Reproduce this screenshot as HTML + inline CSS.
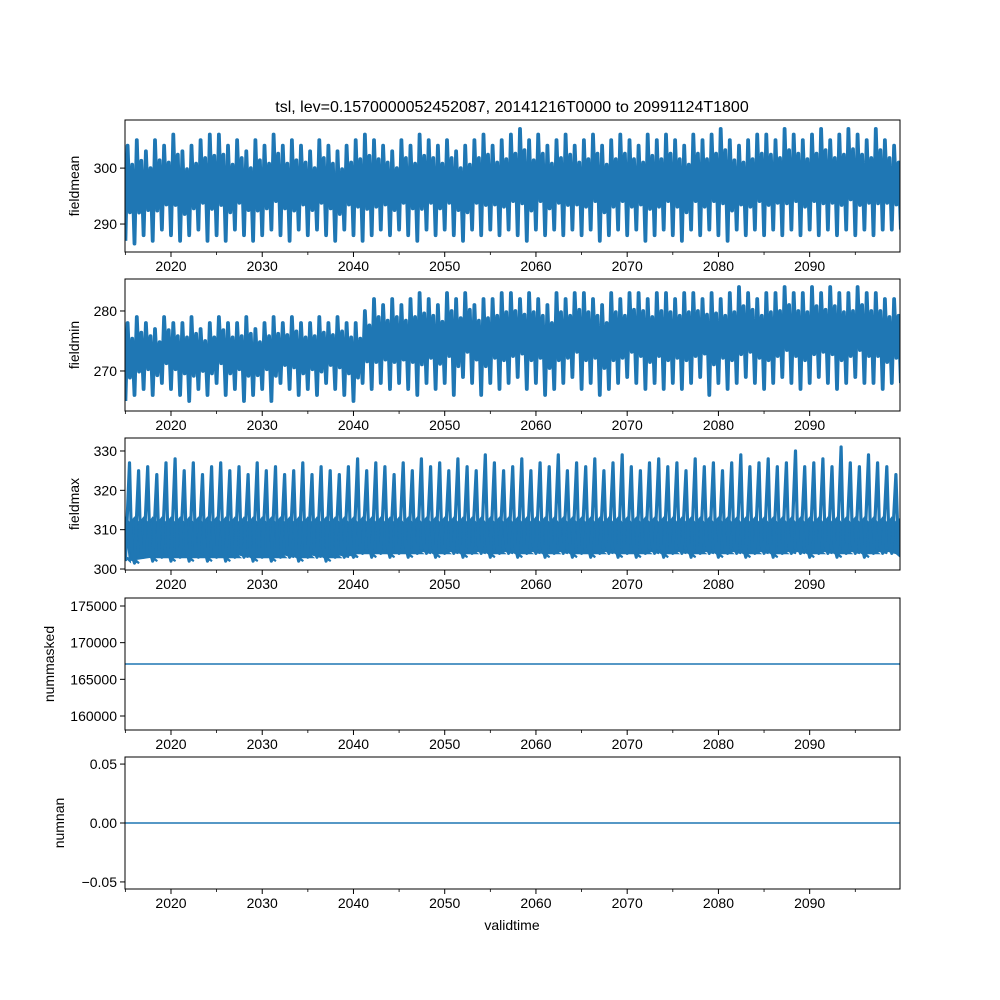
<!DOCTYPE html>
<html><head><meta charset="utf-8"><style>
html,body{margin:0;padding:0;background:#fff;}
svg{display:block;font-family:"Liberation Sans","DejaVu Sans",sans-serif;}
</style></head><body>
<svg id="chart" width="1000" height="1000" viewBox="0 0 1000 1000" xmlns="http://www.w3.org/2000/svg">
<rect width="1000" height="1000" fill="#fff"/>
<text x="512" y="112" text-anchor="middle" font-size="16" fill="#000">tsl, lev=0.1570000052452087, 20141216T0000 to 20991124T1800</text>
<text x="512" y="930" text-anchor="middle" font-size="14" fill="#000">validtime</text>
</svg>
<script>
const years = [];
for (let y = 2015; y <= 2099; y++) years.push(y);
const xTicks = [2020,2030,2040,2050,2060,2070,2080,2090];
const xMinorTicks = [2015,2025,2035,2045,2055,2065,2075,2085,2095];
const meanHi = [304,305,303,305,304,306,303,304,305,306, 306,304,305,303,305,304,306,304,305,304, 303,305,304,303,304,305,306,305,304,303, 305,304,306,305,304,305,303,304,305,306, 304,305,306,307,305,306,304,305,306,304, 305,306,304,305,306,305,304,306,305,306, 305,304,306,305,306,307,305,304,305,306, 306,305,307,306,305,306,307,305,306,307, 306,305,307,305,304];
const meanLo = [287,286.5,288,287,289,288,287,288,289,287, 288,287,289,288,287,288,289,288,287,289, 288,289,288,287,289,288,287,288,289,288, 289,288,287,289,288,289,288,287,289,288, 289,288,289,288,287,289,288,289,288,289, 288,289,287,288,289,288,289,287,288,289, 288,287,289,288,289,288,287,289,288,289, 288,289,288,289,288,289,288,289,288,289, 288,289,288,289,289];
const minHi = [278,279,278,277,279,278,278,279,277,278, 279,278,278,279,277,278,279,278,279,278, 278,279,278,279,278,278,280,282,281,282, 281,282,283,282,281,283,282,283,281,282, 282,283,283,282,283,282,281,283,282,283, 283,282,281,283,282,283,283,282,283,283, 282,283,283,282,283,282,283,284,283,282, 283,283,284,283,283,284,283,284,283,283, 284,283,283,282,282];
const minLo = [265,266,267,266,268,267,266,265,267,266, 268,266,267,265,266,267,265,268,267,266, 267,266,268,267,266,265,268,267,268,267, 268,267,266,268,267,268,266,269,268,266, 268,267,268,269,267,268,266,267,268,269, 267,268,266,267,268,269,268,267,268,267, 268,267,268,269,266,268,267,268,269,268, 267,268,269,268,267,268,269,268,267,268, 269,268,268,267,268];
const maxHi = [327,325,326,324,327,328,325,327,324,326, 327,325,326,324,327,325,326,324,325,327, 324,326,325,324,326,328,325,327,326,324, 327,325,328,326,327,325,328,326,325,329, 327,325,326,328,325,327,326,329,325,327, 326,328,325,327,329,326,325,327,328,326, 327,325,328,326,327,325,327,329,326,327, 328,326,327,330,326,327,328,326,331,327, 326,329,327,326,324];
const maxLo = [302,301.5,303,302,303,302,303,302,303,302, 303,302,303,303,302,303,302,303,303,302, 303,303,302,303,303,303,304,303,304,303, 304,303,304,304,303,304,304,303,304,304, 303,304,304,303,304,304,303,304,304,303, 304,303,304,304,303,304,303,304,304,303, 304,304,303,304,304,303,304,304,303,304, 304,303,304,304,304,303,304,304,303,304, 304,303,304,304,304];
const maxBandTop = 313;
const numMasked = 167090;
const numNan = 0;

const NS = "http://www.w3.org/2000/svg";
const svg = document.getElementById('chart');
const X0 = 125, X1 = 900, T0 = 2014.96, T1 = 2099.9;
const xs = t => X0 + (t - T0) / (T1 - T0) * (X1 - X0);
const BLUE = "#1f77b4";
function mk(tag, attrs, parent){ const e=document.createElementNS(NS,tag); for(const k in attrs) e.setAttribute(k,attrs[k]); (parent||svg).appendChild(e); return e; }

const panels = [
 {name:'fieldmean', top:120, bot:252, vmin:285.0, vmax:308.6, ticks:[290,300], fmt:v=>String(v)},
 {name:'fieldmin', top:279, bot:411, vmin:263.33, vmax:285.33, ticks:[270,280], fmt:v=>String(v)},
 {name:'fieldmax', top:438, bot:570, vmin:299.75, vmax:333.3, ticks:[300,310,320,330], fmt:v=>String(v)},
 {name:'nummasked', top:598, bot:730, vmin:158090, vmax:176090, ticks:[160000,165000,170000,175000], fmt:v=>String(v)},
 {name:'numnan', top:757, bot:889, vmin:-0.056, vmax:0.056, ticks:[-0.05,0,0.05], fmt:v=>(v<0?'\u22120.05':v===0?'0.00':'0.05')}
];

panels.forEach((p, idx) => {
  const g = mk('g', {});
  
  
  const ys = v => p.bot - (v - p.vmin) / (p.vmax - p.vmin) * (p.bot - p.top);
  const clipId = 'clip' + idx;
  const cp = mk('clipPath', {id: clipId}, g);
  mk('rect', {x:X0, y:p.top, width:X1-X0, height:p.bot-p.top}, cp);
  const dg = mk('g', {'clip-path':'url(#'+clipId+')'}, g);
  
  

  if (idx === 0 || idx === 1) {
    const hi = idx === 0 ? meanHi : minHi, lo = idx === 0 ? meanLo : minLo;
    let d = '';
    years.forEach((y, i) => {
      const mid = (hi[i] + lo[i]) / 2;
      const pts = [[y, lo[i]], [y+0.25, hi[i]], [y+0.5, mid - (hi[i]-lo[i])*0.2], [y+0.75, hi[i] - (hi[i]-lo[i])*0.2]];
      pts.forEach((pt, j) => { d += (i===0&&j===0?'M':'L') + xs(pt[0]).toFixed(1) + ',' + ys(pt[1]).toFixed(1); });
    });
    d += 'L' + xs(2100).toFixed(1) + ',' + ys(lo[lo.length-1]).toFixed(1);
    const path = mk('path', {d:d, fill:'none', stroke:BLUE, 'stroke-width':3.8, 'stroke-linejoin':'round'}, dg);
    
    
  } else if (idx === 2) {
    let top = '', bottom = [];
    years.forEach((y, i) => {
      top += (i===0?'M':'L') + xs(y).toFixed(1) + ',' + ys(maxBandTop).toFixed(1);
      top += 'L' + xs(y+0.5).toFixed(1) + ',' + ys(maxBandTop-1.5).toFixed(1);
      bottom.push(xs(y+0.5).toFixed(1) + ',' + ys(maxLo[i]).toFixed(1));
      bottom.push(xs(y).toFixed(1) + ',' + ys(maxLo[i]+1).toFixed(1));
    });
    top += 'L' + xs(2100).toFixed(1) + ',' + ys(maxBandTop).toFixed(1) + 'L' + xs(2100).toFixed(1) + ',' + ys(303).toFixed(1);
    bottom.reverse();
    top += 'L' + bottom.join('L') + 'Z';
    const band = mk('path', {d: top, fill: BLUE, stroke: BLUE, 'stroke-width': 2}, dg);
    
    
    let d = '';
    years.forEach((y, i) => {
      d += (i===0?'M':'L') + xs(y).toFixed(1) + ',' + ys(maxLo[i]).toFixed(1);
      d += 'L' + xs(y+0.45).toFixed(1) + ',' + ys(maxHi[i]).toFixed(1);
      d += 'L' + xs(y+0.7).toFixed(1) + ',' + ys(maxLo[i]+2).toFixed(1);
    });
    const path = mk('path', {d:d, fill:'none', stroke:BLUE, 'stroke-width':3.2, 'stroke-linejoin':'round'}, dg);
    
    
  } else {
    const v = idx === 3 ? numMasked : numNan;
    const ln = mk('line', {x1:X0, x2:X1, y1:ys(v), y2:ys(v), stroke:BLUE, 'stroke-width':1.5}, dg);
    
    
  }

  const frame = mk('rect', {x:X0, y:p.top, width:X1-X0, height:p.bot-p.top, fill:'none', stroke:'#000', 'stroke-width':1}, g);
  
  

  p.ticks.forEach(v => {
    const y = ys(v);
    mk('line', {x1:X0-5, x2:X0, y1:y, y2:y, stroke:'#000', 'stroke-width':1}, g);
    const t = mk('text', {x:X0-8, y:y+5, 'text-anchor':'end', 'font-size':14, fill:'#000'}, g);
    t.textContent = p.fmt(v);
    
    
  });
  xTicks.forEach(v => {
    const x = xs(v);
    mk('line', {x1:x, x2:x, y1:p.bot, y2:p.bot+5, stroke:'#000', 'stroke-width':1}, g);
    const t = mk('text', {x:x, y:p.bot+19, 'text-anchor':'middle', 'font-size':14, fill:'#000'}, g);
    t.textContent = String(v);
    
    
  });
  xMinorTicks.forEach(v => {
    const x = xs(v);
    mk('line', {x1:x, x2:x, y1:p.bot, y2:p.bot+3, stroke:'#000', 'stroke-width':0.8}, g);
  });
  const labX = idx === 3 ? 54 : idx === 4 ? 64 : 79;
  const cy = (p.top + p.bot) / 2;
  const yl = mk('text', {x:labX, y:cy, 'text-anchor':'middle', 'font-size':14, fill:'#000', transform:'rotate(-90 '+labX+' '+cy+')'}, g);
  yl.textContent = p.name;
  
  
});
</script>
</body></html>
